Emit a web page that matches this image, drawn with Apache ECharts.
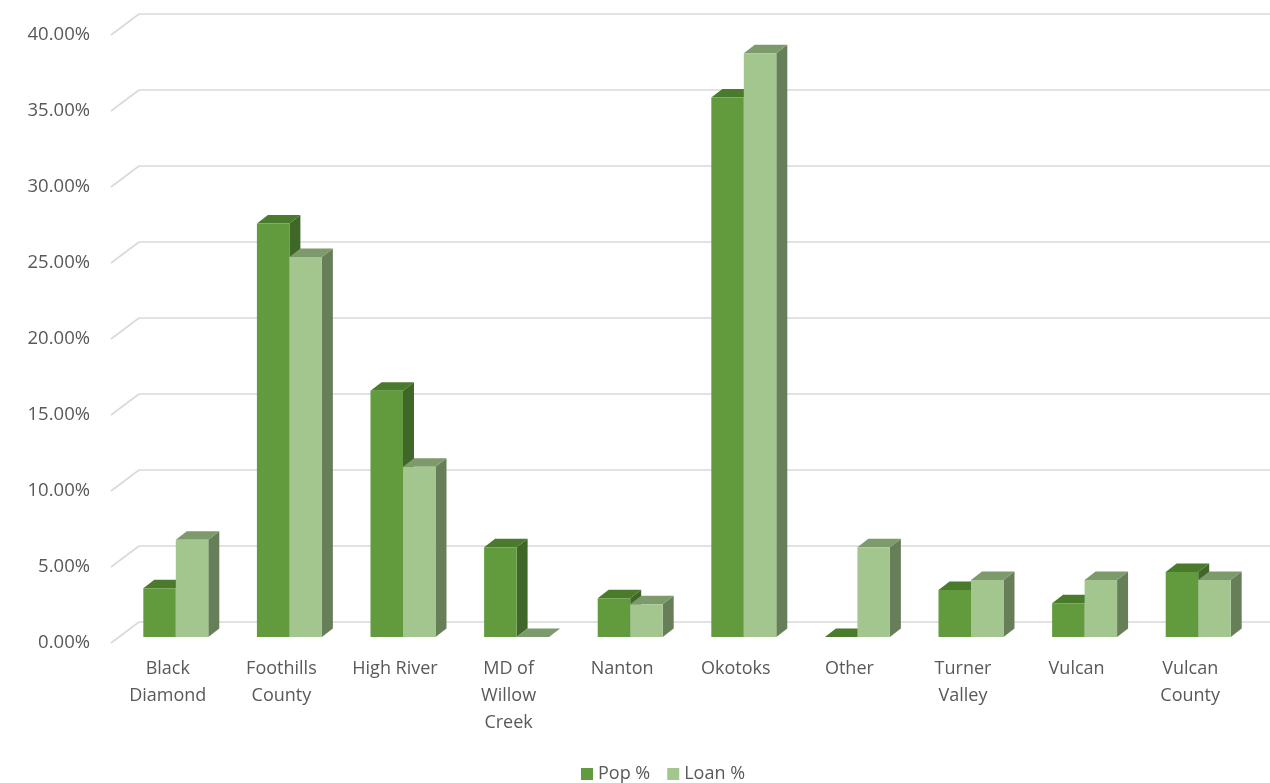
<!DOCTYPE html>
<html>
<head>
<meta charset="utf-8">
<title>Pop % vs Loan %</title>
<script src="https://cdn.jsdelivr.net/npm/echarts@6/dist/echarts.min.js"></script>
<style>
  html, body { margin: 0; padding: 0; background: #ffffff; }
  #chart { width: 1270px; height: 783px; }
</style>
</head>
<body>
<div id="chart"></div>
<script>
// Communities (line breaks as shown under the axis)
const categories = [
  'Black\nDiamond', 'Foothills\nCounty', 'High River', 'MD of\nWillow\nCreek', 'Nanton',
  'Okotoks', 'Other', 'Turner\nValley', 'Vulcan', 'Vulcan\nCounty'
];
// Shares as fractions
const popPct  = [0.032, 0.272, 0.162, 0.059, 0.0255, 0.355, 0.000, 0.031, 0.0222, 0.0428];
const loanPct = [0.064, 0.250, 0.112, 0.000, 0.0215, 0.384, 0.059, 0.0375, 0.0375, 0.0375];
const seriesNames = ['Pop %', 'Loan %'];
const yTicks = [0, 0.05, 0.10, 0.15, 0.20, 0.25, 0.30, 0.35, 0.40];

// Oblique projection offsets (pixels)
const WALL = [28, -21];   // front plane -> back wall
const BAR_PLANE = [8, -6]; // front plane -> bar front faces
const DEPTH = [11, -8.5];  // bar depth
const BAR_RATIO = 0.286;   // bar width / category band

const palette = {
  pop:  { front: '#629b3e', top: '#4a7a2c', side: '#3f6727' },
  loan: { front: '#a2c68e', top: '#7c9a6b', side: '#667f58' }
};

function makeBarRenderer(slot, col) {
  return function (params, api) {
    const ci = api.value(0);
    const v = api.value(1);
    const base = api.coord([ci, 0]);
    const top = api.coord([ci, v]);
    const band = api.size([1, 0])[0];
    const bw = band * BAR_RATIO;
    const x0 = base[0] - bw + slot * bw + BAR_PLANE[0];
    const x1 = x0 + bw;
    const yb = base[1] + BAR_PLANE[1];
    const yt = top[1] + BAR_PLANE[1];
    const dx = DEPTH[0], dy = DEPTH[1];
    return {
      type: 'group',
      children: [
        { type: 'polygon', shape: { points: [[x1, yb], [x1, yt], [x1 + dx, yt + dy], [x1 + dx, yb + dy]] },
          style: { fill: col.side } },
        { type: 'polygon', shape: { points: [[x0, yt], [x1, yt], [x1 + dx, yt + dy], [x0 + dx, yt + dy]] },
          style: { fill: col.top } },
        { type: 'rect', shape: { x: x0, y: yt, width: bw, height: yb - yt },
          style: { fill: col.front } }
      ]
    };
  };
}

function renderWalls(params, api) {
  const cs = params.coordSys;
  const p = api.coord([0, api.value(1)]);
  const y = p[1];
  const lineStyle = { stroke: '#d9d9d9', lineWidth: 1.6, fill: null };
  return {
    type: 'group',
    children: [
      { type: 'line', shape: { x1: cs.x, y1: y, x2: cs.x + WALL[0], y2: y + WALL[1] }, style: lineStyle },
      { type: 'line', shape: { x1: cs.x + WALL[0], y1: y + WALL[1], x2: cs.x + cs.width + WALL[0], y2: y + WALL[1] }, style: lineStyle }
    ]
  };
}

const chart = echarts.init(document.getElementById('chart'), null, { renderer: 'canvas' });
const textColor = '#595959';
const fontFamily = '"Open Sans", "Noto Sans", sans-serif';

chart.setOption({
  backgroundColor: '#ffffff',
  animation: false,
  textStyle: { fontFamily: fontFamily, color: textColor },
  legend: {
    data: seriesNames,
    bottom: -5,
    left: 576,
    icon: 'rect',
    itemWidth: 12,
    itemHeight: 12,
    itemGap: 17,
    textStyle: { fontSize: 18, color: textColor, fontFamily: fontFamily }
  },
  grid: { left: 111, top: 35, width: 1136, height: 608, containLabel: false },
  xAxis: {
    type: 'category',
    data: categories,
    axisLine: { show: false },
    axisTick: { show: false },
    axisLabel: {
      interval: 0,
      margin: 12,
      fontSize: 18,
      lineHeight: 27,
      color: textColor,
      fontFamily: fontFamily,
      verticalAlign: 'top'
    }
  },
  yAxis: {
    type: 'value',
    min: 0,
    max: 0.4,
    interval: 0.05,
    axisLine: { show: false },
    axisTick: { show: false },
    splitLine: { show: false },
    axisLabel: {
      margin: 21,
      fontSize: 18.5,
      color: textColor,
      fontFamily: fontFamily,
      formatter: function (v) { return (v * 100).toFixed(2) + '%'; }
    }
  },
  series: [
    {
      name: 'walls',
      type: 'custom',
      silent: true,
      z: 1,
      renderItem: renderWalls,
      encode: { x: 0, y: 1 },
      data: yTicks.map(function (t) { return [0, t]; })
    },
    {
      name: seriesNames[0],
      type: 'custom',
      z: 2,
      itemStyle: { color: palette.pop.front },
      renderItem: makeBarRenderer(0, palette.pop),
      encode: { x: 0, y: 1 },
      data: popPct.map(function (v, i) { return [i, v]; })
    },
    {
      name: seriesNames[1],
      type: 'custom',
      z: 3,
      itemStyle: { color: palette.loan.front },
      renderItem: makeBarRenderer(1, palette.loan),
      encode: { x: 0, y: 1 },
      data: loanPct.map(function (v, i) { return [i, v]; })
    }
  ]
});
</script>
</body>
</html>
